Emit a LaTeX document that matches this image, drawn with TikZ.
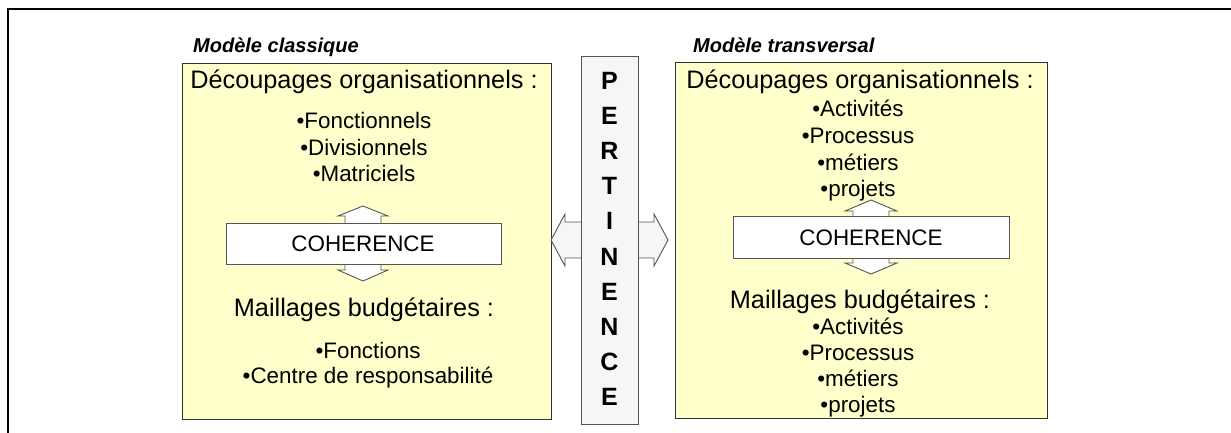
\documentclass[tikz,border=0pt]{standalone}
\usepackage{fontspec}
\setmainfont{Liberation Sans}
\definecolor{boxyellow}{HTML}{FFFFCC}
\definecolor{pgray}{HTML}{F6F6F6}
\definecolor{edge}{HTML}{333333}
\definecolor{aedge}{HTML}{555555}
\begin{document}
\begin{tikzpicture}[x=1pt,y=-1pt,
  ybox/.style={draw=edge, line width=1.1pt, fill=boxyellow, inner sep=0, anchor=north west},
  pbox/.style={draw=aedge, line width=1pt, fill=pgray, inner sep=0, anchor=north west},
  cbox/.style={draw=aedge, line width=1pt, fill=white, inner sep=0, anchor=north west},
  arr/.style={draw=aedge, line width=0.9pt, line join=miter},
  hd/.style={font=\fontsize{25.3}{29}\selectfont, anchor=base, inner sep=0},
  itm/.style={font=\fontsize{22.4}{26}\selectfont, anchor=base, inner sep=0},
  ttl/.style={font=\bfseries\itshape\fontsize{20}{24}\selectfont, anchor=base west, inner sep=0},
  pl/.style={font=\bfseries\fontsize{25}{28}\selectfont, anchor=base, inner sep=0}]
\useasboundingbox (0,0) rectangle (1231,432);
\fill[white] (0,0) rectangle (1231,432);
% outer frame (only top and left visible)
\draw[line width=2pt, black] (8,433) -- (8,9) -- (1232,9);

% main boxes
\node[ybox, minimum width=369pt, minimum height=356pt] (lbox) at (182,63) {};
\node[ybox, minimum width=372pt, minimum height=356pt] (rbox) at (675,62) {};

% PERTINENCE double arrow (behind the vertical box)
\filldraw[arr, fill=pgray] (551,240) -- (565,214) -- (565,222) -- (654,222) -- (654,214)
  -- (668,240) -- (654,266) -- (654,258) -- (565,258) -- (565,266) -- cycle;
\node[pbox, minimum width=57pt, minimum height=368pt] (pbox) at (581,56) {};

% left COHERENCE up/down arrow
\filldraw[arr, fill=white] (363,206) -- (388,216) -- (381,216) -- (381,270) -- (388,270)
  -- (363,281) -- (338,270) -- (345,270) -- (345,216) -- (338,216) -- cycle;
\node[cbox, minimum width=275pt, minimum height=41pt] (lcoh) at (226,223) {};
% right COHERENCE up/down arrow
\filldraw[arr, fill=white] (871,200) -- (897,211) -- (889,211) -- (889,263) -- (897,263)
  -- (871,274) -- (845,263) -- (853,263) -- (853,211) -- (845,211) -- cycle;
\node[cbox, minimum width=276pt, minimum height=42pt] (rcoh) at (733,216) {};

% titles
\node[ttl] (tl) at (193,52) {Modèle classique};
\node[ttl] (tr) at (693,52) {Modèle transversal};

% left texts
\node[hd] (lh1) at (364,88) {Découpages organisationnels :};
\node[itm] (l1) at (364,128) {•Fonctionnels};
\node[itm] (l2) at (364,155) {•Divisionnels};
\node[itm] (l3) at (364,181) {•Matriciels};
\node[itm] (lc) at (363,251) {COHERENCE};
\node[hd] (lh2) at (364,316) {Maillages budgétaires :};
\node[itm] (l4) at (368,358) {•Fonctions};
\node[itm] (l5) at (368,383) {•Centre de responsabilité};

% right texts
\node[hd] (rh1) at (860,88) {Découpages organisationnels :};
\node[itm] (r1) at (858,116) {•Activités};
\node[itm] (r2) at (858,143) {•Processus};
\node[itm] (r3) at (858,170) {•métiers};
\node[itm] (r4) at (858,196) {•projets};
\node[itm] (rc) at (871,245) {COHERENCE};
\node[hd] (rh2) at (860,308) {Maillages budgétaires :};
\node[itm] (r5) at (858,334) {•Activités};
\node[itm] (r6) at (858,360) {•Processus};
\node[itm] (r7) at (858,386) {•métiers};
\node[itm] (r8) at (858,412) {•projets};

% PERTINENCE letters
\foreach \ch [count=\i from 0] in {P,E,R,T,I,N,E,N,C,E}{
  \node[pl] (p\i) at (609.5,{89+35.2*\i}) {\ch};
}
\end{tikzpicture}
\end{document}
